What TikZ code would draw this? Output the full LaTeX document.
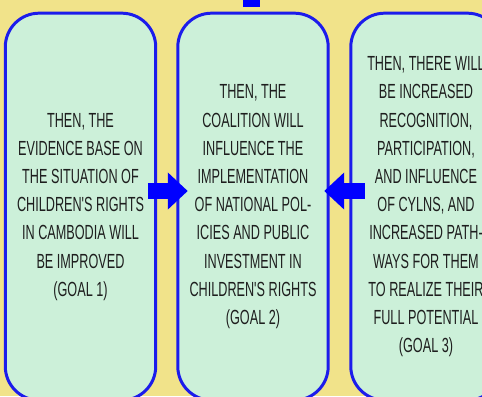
\documentclass[tikz,border=0pt]{standalone}
\usepackage{fontspec}
\usetikzlibrary{arrows.meta}
\newfontfamily\goalfont{Liberation Sans}[FakeStretch=0.62]
\definecolor{mybg}{HTML}{F1E38A}
\definecolor{mygreen}{HTML}{CCF0D9}
\definecolor{myblue}{HTML}{1C1CEB}
\definecolor{myarrow}{HTML}{0000FF}
\definecolor{mytext}{HTML}{1E1E1E}
\tikzstyle{goal}=[draw=myblue,fill=mygreen,line width=3,rounded corners=34,
                  minimum width=151,minimum height=388.5,inner sep=0,
                  align=center,text=mytext,font=\goalfont\fontsize{20.5}{28.3}\selectfont]
\tikzstyle{block arrow}=[-{Triangle[length=20,width=36]},myarrow,line width=16]

\begin{document}
\begin{tikzpicture}[x=1bp,y=-1bp]
  \useasboundingbox (0,0) rectangle (482,396);
  \fill[mybg] (0,0) rectangle (482,396); % background
  
  % TOP CONNECTOR
  \fill[myarrow] (243,0) rectangle (260,7);
  
  % GOAL BOXES
  \node[goal] (goal1) at (80.5,206.7) {THEN, THE\\EVIDENCE BASE ON\\THE SITUATION OF\\CHILDREN'S RIGHTS\\IN CAMBODIA WILL\\BE IMPROVED\\(GOAL 1)};
  \node[goal] (goal2) at (253,206.7) {THEN, THE\\COALITION WILL\\INFLUENCE THE\\IMPLEMENTATION\\OF NATIONAL POL-\\ICIES AND PUBLIC\\INVESTMENT IN\\CHILDREN'S RIGHTS\\(GOAL 2)};
  \node[goal] (goal3) at (426,206.7) {THEN, THERE WILL\\BE INCREASED\\RECOGNITION,\\PARTICIPATION,\\AND INFLUENCE\\OF CYLNS, AND\\INCREASED PATH-\\WAYS FOR THEM\\TO REALIZE THEIR\\FULL POTENTIAL\\(GOAL 3)};
  
  % ARROWS
  \draw[block arrow] ([xshift=-9.5]goal1.east |- 0,191) -- ([xshift=11.5]goal2.west |- 0,191);
  \draw[block arrow] ([xshift=15.5]goal3.west |- 0,191) -- ([xshift=-5.5]goal2.east |- 0,191);
  
\end{tikzpicture}
\end{document}
